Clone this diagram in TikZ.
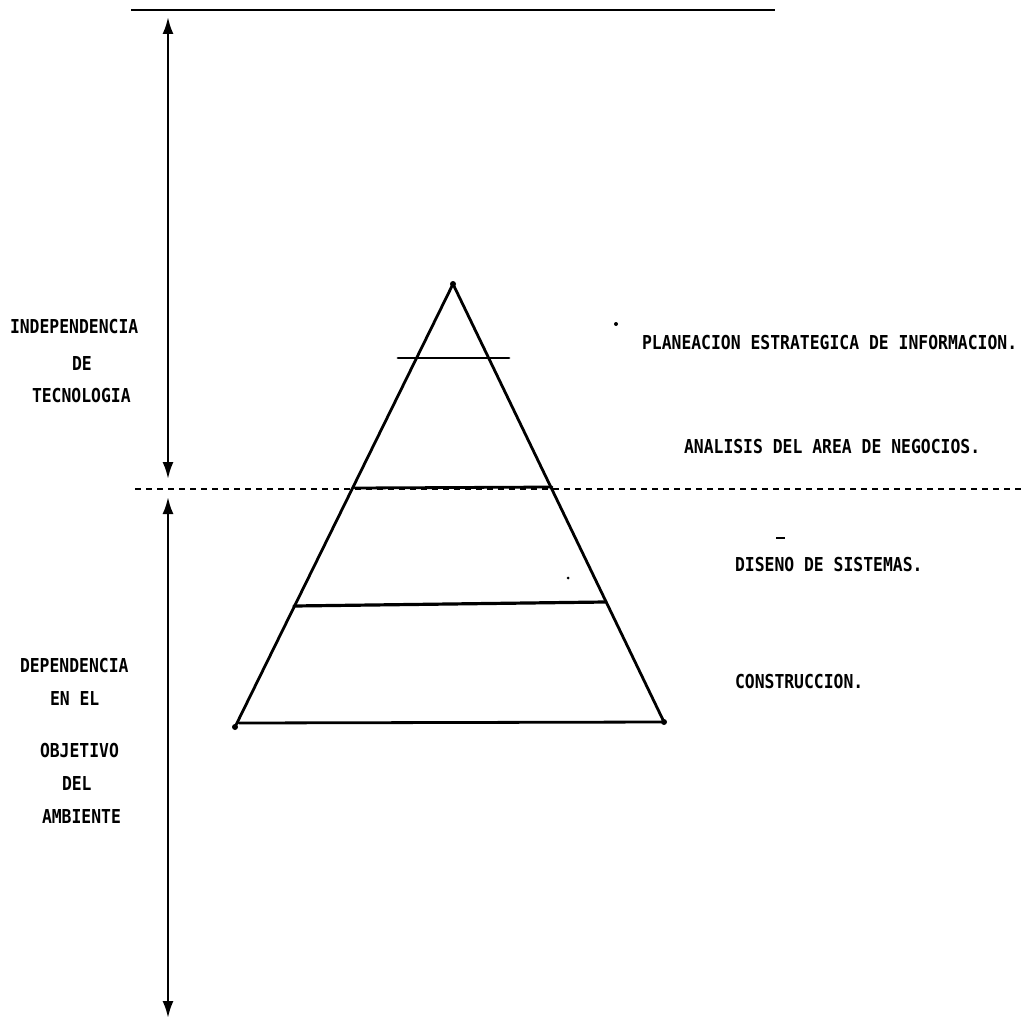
\documentclass[tikz,border=0pt]{standalone}
\usepackage{fontspec}
\setmonofont{DejaVu Sans Mono}
\usetikzlibrary{arrows.meta}
\newcommand{\plotlbl}[1]{\scalebox{1.0}[1.17]{\ttfamily\bfseries\fontsize{16.4}{18}\selectfont #1}}
\tikzset{
  lbl/.style={anchor=base west, inner sep=0pt, outer sep=0pt},
  thin line/.style={line width=2.4pt},
  pyr/.style={line width=2.8pt, line cap=round, line join=round},
  dim arrow/.style={line width=2.4pt, {Latex[length=17pt,width=11pt]}-{Latex[length=17pt,width=11pt]}},
  blob/.style={circle, fill=black, inner sep=0pt, minimum size=6pt}
}
\begin{document}
\begin{tikzpicture}[x=1pt, y=-1pt]
\useasboundingbox[fill=white] (0,0) rectangle (1033,1025);

% top line and dashed separator
\coordinate (tl) at (131,10);
\coordinate (tr) at (775,10);
\draw[thin line] (tl) -- (tr);
\coordinate (dl) at (135,489);
\coordinate (dr) at (1021,489);
\draw[line width=2.4pt, dash pattern=on 6pt off 5pt] (dl) -- (dr);

% vertical dimension arrows
\coordinate (a1) at (168,17);
\coordinate (a2) at (168,479);
\coordinate (b1) at (168,497);
\coordinate (b2) at (168,1018);
\draw[dim arrow] (a1) -- (a2);
\draw[dim arrow] (b1) -- (b2);

% pyramid
\node[blob] (apex) at (453,284) {};
\node[blob] (bl) at (235,727) {};
\node[blob] (br) at (664,722) {};
\draw[pyr] (apex.center) -- (bl.center);
\draw[pyr] (apex.center) -- (br.center);
\coordinate (b0) at (239,723);
\draw[pyr] (b0) -- (br.center);
\coordinate (l1a) at (398,358);
\coordinate (l1b) at (509,358);
\draw[pyr] (l1a) -- (l1b);
\coordinate (l2a) at (355,488);
\coordinate (l2b) at (552,487);
\draw[pyr] (l2a) -- (l2b);
\coordinate (l3a) at (294,606);
\coordinate (l3b) at (605,602);
\draw[line width=3.2pt, line cap=round] (l3a) -- (l3b);

% stray dots
\node[circle, fill=black, inner sep=0pt, minimum size=4pt] (dot1) at (616,324) {};
\node[circle, fill=black, inner sep=0pt, minimum size=3pt] (dot2) at (568,578) {};

% left labels
\node[lbl] (t1) at (10,333) {\plotlbl{INDEPENDENCIA}};
\node[lbl] (t2) at (72,370) {\plotlbl{DE}};
\node[lbl] (t3) at (32,402) {\plotlbl{TECNOLOGIA}};
\node[lbl] (t4) at (20,672) {\plotlbl{DEPENDENCIA}};
\node[lbl] (t5) at (50,705) {\plotlbl{EN EL}};
\node[lbl] (t6) at (40,757) {\plotlbl{OBJETIVO}};
\node[lbl] (t7) at (62,790) {\plotlbl{DEL}};
\node[lbl] (t8) at (42,823) {\plotlbl{AMBIENTE}};

% right labels
\node[lbl] (r1) at (642,349) {\plotlbl{PLANEACION ESTRATEGICA DE INFORMACION.}};
\node[lbl] (r2) at (684,453) {\plotlbl{ANALISIS DEL AREA DE NEGOCIOS.}};
\node[lbl] (r3) at (735,571) {\plotlbl{DISENO DE SISTEMAS.}};
\node[lbl] (r4) at (735,688) {\plotlbl{CONSTRUCCION.}};
\coordinate (tila) at (776,538);
\coordinate (tilb) at (785,538);
\draw[line width=2.2pt] (tila) -- (tilb);
\end{tikzpicture}
\end{document}
